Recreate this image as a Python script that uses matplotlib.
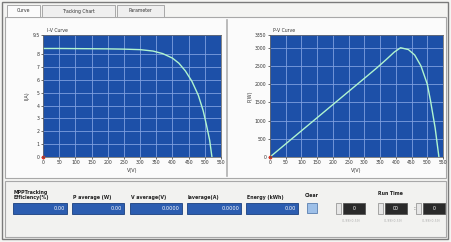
import matplotlib.pyplot as plt
from matplotlib.patches import Rectangle

# I-V curve
iv_volts = [0, 50, 100, 150, 200, 250, 300, 340, 370, 400, 420, 440, 460, 480, 495, 505, 515, 522]
iv_amps = [8.45, 8.45, 8.44, 8.43, 8.42, 8.40, 8.36, 8.25, 8.05, 7.7, 7.3, 6.7, 5.9, 4.8, 3.6, 2.5, 1.3, 0.0]

# P-V curve
pv_volts = [0, 50, 100, 150, 200, 250, 300, 340, 370, 395, 415, 440, 460, 480, 500, 510, 525, 537]
pv_watts = [0, 360, 720, 1080, 1440, 1800, 2160, 2450, 2680, 2880, 3000, 2950, 2800, 2500, 2000, 1560, 800, 0]

volt_ticks = list(range(0, 551, 50))
amp_ticks = [0, 1, 2, 3, 4, 5, 6, 7, 8, 9.5]
amp_labels = ['0', '1', '2', '3', '4', '5', '6', '7', '8', '9.5']
watt_ticks = [0, 500, 1000, 1500, 2000, 2500, 3000, 3350]
watt_labels = ['0', '500', '1000', '1500', '2000', '2500', '3000', '3350']

tabs = ['Curve', 'Tracking Chart', 'Parameter']
readouts = [('MPPTracking\nEfficiency(%)', '0.00'), ('P average (W)', '0.00'),
            ('V average(V)', '0.0000'), ('Iaverage(A)', '0.0000'), ('Energy (kWh)', '0.00')]
run_time = ['0', '00', '0']

W, H = 451, 242
fig = plt.figure(figsize=(W / 100, H / 100), dpi=100)
fig.patch.set_facecolor('#f4f4f2')

bg = fig.add_axes([0, 0, 1, 1])
bg.set_xlim(0, W)
bg.set_ylim(H, 0)
bg.axis('off')


def box(x, y, w, h, fc='none', ec='#9a9a9a', lw=0.8, z=1):
    bg.add_patch(Rectangle((x, y), w, h, facecolor=fc, edgecolor=ec, lw=lw, zorder=z))


# outer frame and tab panel
box(2, 2, 446, 237, ec='#7a7a7a', lw=1.0)
box(5, 17, 441, 161, fc='#fbfbfb', ec='#a8a8a8')
tab_x = [7, 42, 117]
tab_w = [33, 73, 47]
for name, tx, tw in zip(tabs, tab_x, tab_w):
    box(tx, 5, tw, 12, fc='#fbfbfb' if name == 'Curve' else '#efefef', ec='#a8a8a8', lw=0.7)
    bg.text(tx + tw / 2, 11, name, fontsize=3.3, ha='center', va='center', color='#333333')
bg.plot([227, 227], [20, 176], color='#b0b0b0', lw=1.2)

# bottom section
box(5, 181, 441, 56, fc='#f2f2f0', ec='#a8a8a8')
ro_x = [13, 72, 130, 187, 246]
ro_w = [54, 52, 52, 54, 52]
for (lab, val), rx, rw in zip(readouts, ro_x, ro_w):
    bg.text(rx + 1, 200, lab, fontsize=3.4, ha='left', va='bottom', color='#222222', linespacing=1.1,
            fontweight='bold')
    box(rx, 203, rw, 11, fc='#2c5db0', ec='#1a3f80', lw=0.6)
    bg.text(rx + rw - 2, 208.5, val, fontsize=3.6, ha='right', va='center', color='white')

bg.text(312, 198, 'Clear', fontsize=3.4, ha='center', va='bottom', color='#222222', fontweight='bold')
box(307, 203, 10, 10, fc='#9ec0e8', ec='#5a7fb0', lw=0.6)
bg.text(390, 196, 'Run Time', fontsize=3.4, ha='center', va='bottom', color='#222222', fontweight='bold')
rt_x = [343, 385, 423]
for val, rx in zip(run_time, rt_x):
    box(rx - 7, 203, 5, 11, fc='#e6e6e6', ec='#888888', lw=0.5)
    box(rx, 203, 22, 11, fc='#2a2a2a', ec='#555555', lw=0.6)
    bg.text(rx + 11, 208.5, val, fontsize=3.4, ha='center', va='center', color='white')
    bg.text(rx + 8, 219, '(0-99)(0-59)', fontsize=2.2, ha='center', va='top', color='#aaaaaa')
bg.text(414, 208.5, ':', fontsize=4, ha='center', va='center', color='#222222')


def graph(px, title, xv, yv, yticks, ylabels, ylab):
    x0, x1, y0, y1 = px
    ax = fig.add_axes([x0 / W, 1 - y1 / H, (x1 - x0) / W, (y1 - y0) / H])
    ax.set_facecolor('#1d50a8')
    ax.plot(xv, yv, color='#b0f5d0', lw=1.0)
    ax.plot([0], [0], 's', color='#e03020', ms=2, clip_on=False)
    ax.set_xlim(0, 550)
    ax.set_ylim(0, yticks[-1])
    ax.set_xticks(volt_ticks)
    ax.set_yticks(yticks)
    ax.set_yticklabels(ylabels)
    ax.grid(True, color='#7f9fdf', lw=0.6)
    ax.tick_params(labelsize=3.3, length=1.5, width=0.5, pad=1, colors='#333333')
    for s in ax.spines.values():
        s.set_color('#555555')
        s.set_linewidth(0.5)
    ax.set_xlabel('V(V)', fontsize=3.5, labelpad=1.5, color='#333333')
    ax.set_ylabel(ylab, fontsize=3.5, labelpad=2, color='#333333')
    ax.text(0.02, 1.02, title, transform=ax.transAxes, fontsize=3.3, color='#333333', va='bottom')
    return ax


graph((43, 221, 35, 157), 'I-V Curve', iv_volts, iv_amps, amp_ticks, amp_labels, 'I(A)')
graph((270, 443, 35, 157), 'P-V Curve', pv_volts, pv_watts, watt_ticks, watt_labels, 'P(W)')

fig.savefig('out.png', dpi=100, facecolor=fig.get_facecolor())
